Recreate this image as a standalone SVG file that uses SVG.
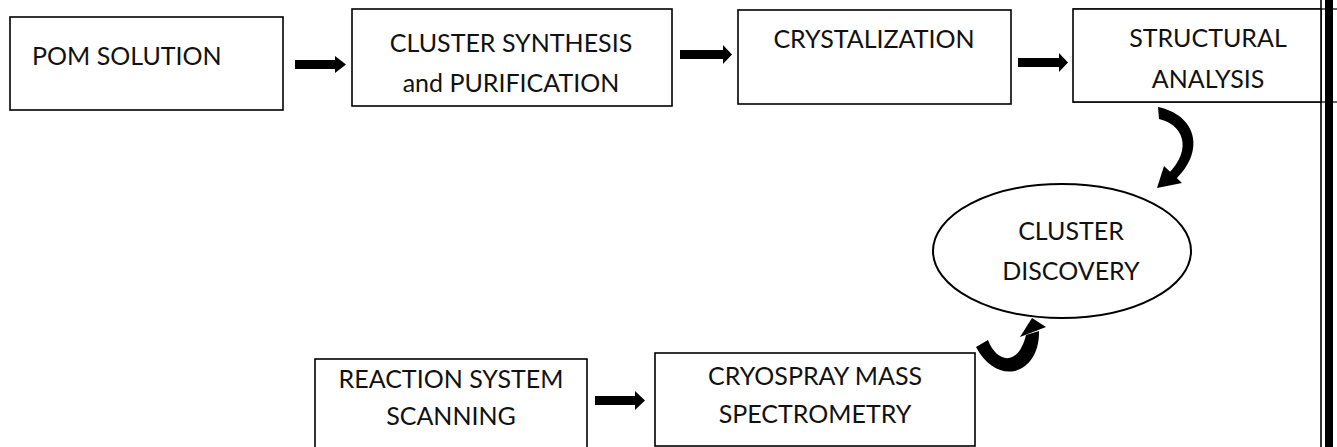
<svg xmlns="http://www.w3.org/2000/svg" width="1337" height="447" viewBox="0 0 1337 447">
<style>
.box{fill:#fff;stroke:#000;stroke-width:1.6}
.t{font-family:Lato,"Liberation Sans",sans-serif;font-size:25px;fill:#111}
.c{text-anchor:middle}
.arr{fill:#000}
</style>
<rect width="1337" height="447" fill="#fff"/>
<g id="frame">
<line x1="1073" y1="9" x2="1337" y2="9" stroke="#333" stroke-width="1.6"/>
<line x1="1073" y1="102" x2="1337" y2="102" stroke="#333" stroke-width="1.6"/>
<line x1="1321" y1="0" x2="1321" y2="447" stroke="#000" stroke-width="1.6"/>
<rect x="1325" y="0" width="8" height="447" fill="#000"/>
</g>
<g id="pom">
<rect class="box" x="10" y="17" width="273" height="93"/>
<text class="t" x="32" y="65">POM SOLUTION</text>
</g>
<g id="synthesis">
<rect class="box" x="352" y="9" width="320" height="97"/>
<text class="t c" x="511" y="52">CLUSTER SYNTHESIS</text>
<text class="t c" x="511" y="92">and PURIFICATION</text>
</g>
<g id="crystal">
<rect class="box" x="738" y="10" width="273" height="94"/>
<text class="t c" x="874" y="48">CRYSTALIZATION</text>
</g>
<g id="structural">
<rect class="box" x="1073" y="9" width="248" height="93"/>
<text class="t c" x="1208" y="47">STRUCTURAL</text>
<text class="t c" x="1208" y="88">ANALYSIS</text>
</g>
<g id="discovery">
<ellipse cx="1062" cy="251" rx="129" ry="67" fill="#fff" stroke="#000" stroke-width="2"/>
<text class="t c" x="1071" y="240">CLUSTER</text>
<text class="t c" x="1071" y="280">DISCOVERY</text>
</g>
<g id="reaction">
<rect class="box" x="315" y="359" width="272" height="100"/>
<text class="t c" x="451" y="388">REACTION SYSTEM</text>
<text class="t c" x="451" y="425">SCANNING</text>
</g>
<g id="cryospray">
<rect class="box" x="655" y="353" width="320" height="93"/>
<text class="t c" x="815" y="385">CRYOSPRAY MASS</text>
<text class="t c" x="815" y="423">SPECTROMETRY</text>
</g>
<g id="connectors">
<polygon class="arr" points="295,60 335,60 335,56 346,64.5 335,73 335,69 295,69"/>
<polygon class="arr" points="680,50 723,50 723,45 732,54.5 723,64 723,59 680,59"/>
<polygon class="arr" points="1018,58 1059,58 1059,53 1068,62.5 1059,72 1059,67 1018,67"/>
<polygon class="arr" points="595,396 635,396 635,391 645,400.5 635,410 635,405 595,405"/>
<path class="arr" d="M1158,107 L1159,119 C1182,124 1194,148 1168,174 L1176,179 C1206,150 1196,115 1158,107 Z"/>
<polygon class="arr" points="1157,188 1164,166 1182,183"/>
<path class="arr" d="M976,347 L988,340 C996,362 1018,368 1026,335 L1039,331 C1040,374 998,388 976,347 Z"/>
<polygon class="arr" points="1032,318 1020,337 1046,327"/>
</g>
</svg>
